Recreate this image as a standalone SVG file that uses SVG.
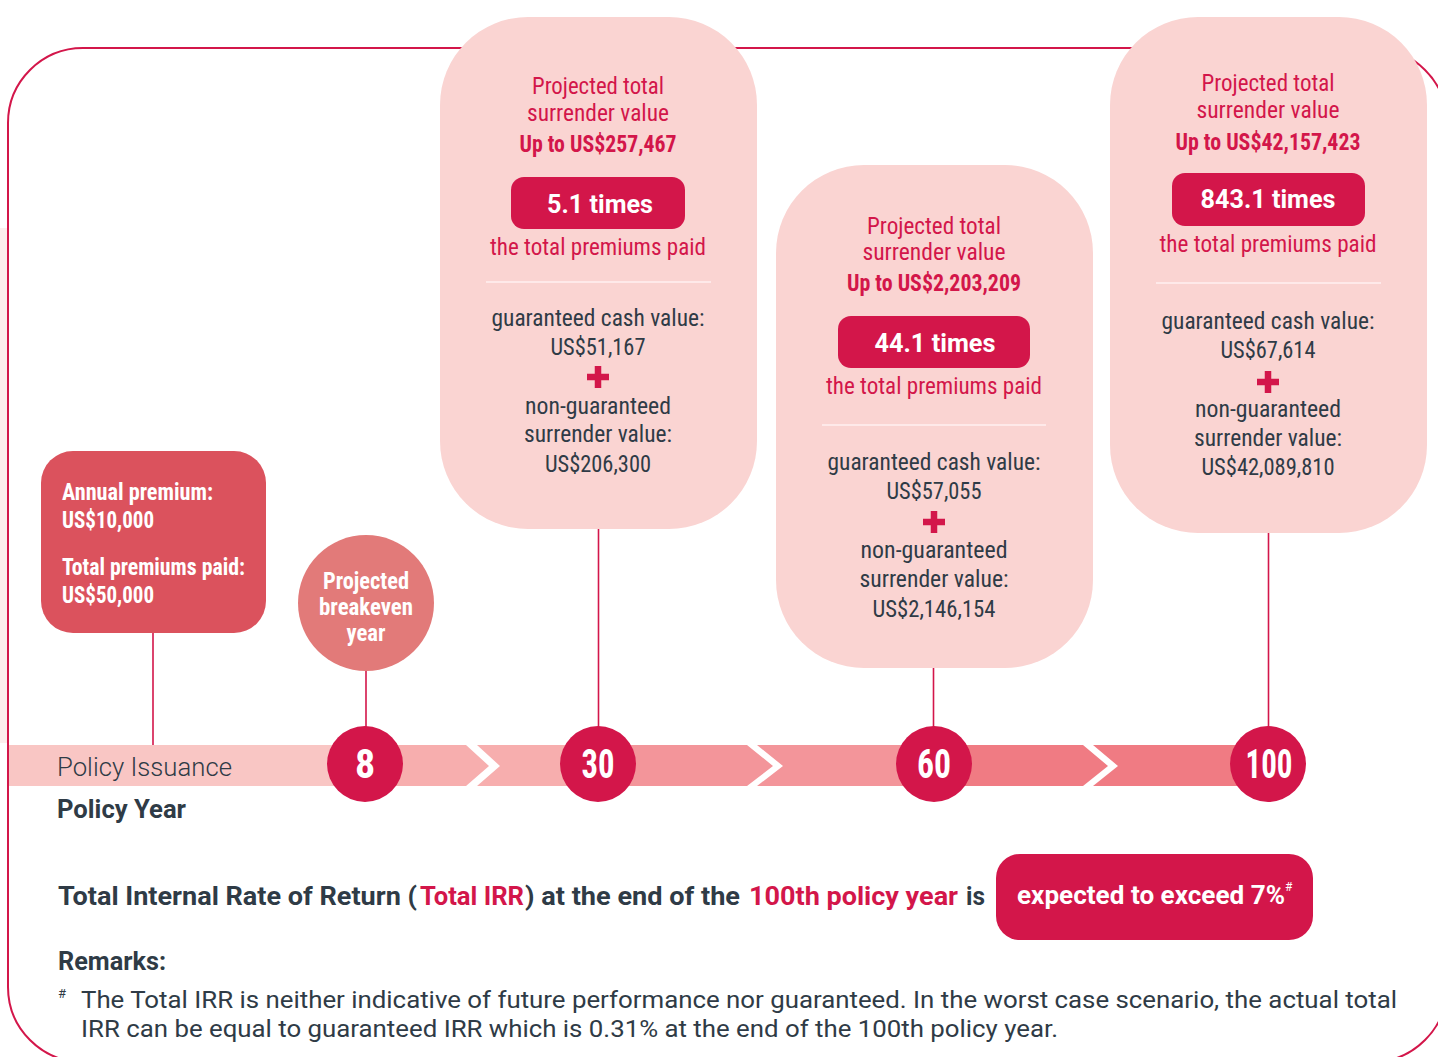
<svg xmlns="http://www.w3.org/2000/svg" width="1438" height="1057" viewBox="0 0 1438 1057">
<style>
.cond{font-family:"Liberation Sans Narrow","Roboto Condensed","Liberation Sans",sans-serif;font-size:24px}
.b{font-weight:bold}
.red{fill:#D3164A}
.dark{fill:#2F3B46}
.wh{fill:#FFFFFF}
.mid{text-anchor:middle}
.box{fill:#FAD4D2}
.pill{fill:#D3164A}
.div{stroke:#FFF1F0;stroke-width:1.5}
.plus{stroke:#D3164A;stroke-width:6.5}
.conn{stroke:#D3164A;stroke-width:1.6;fill:none}
.sans{font-family:Roboto,"Liberation Sans",sans-serif}
.pilltxt{font-family:Roboto,"Liberation Sans",sans-serif;font-size:25px;font-weight:bold;fill:#FFFFFF;text-anchor:middle}
.num{font-family:"Liberation Sans Narrow","Roboto Condensed","Liberation Sans",sans-serif;font-size:40px;font-weight:bold;fill:#FFFFFF;text-anchor:middle}
.yr{fill:#D3164A}
.chev{fill:#FFFFFF}
</style>
<rect x="0" y="228" width="7" height="515" fill="#FDEEED"/>
<rect id="frame" x="8" y="48" width="1439" height="1014" rx="75" ry="75" fill="none" stroke="#D3164A" stroke-width="2"/>

<g id="timeline">
<rect x="9" y="745" width="360" height="41" fill="#F9C6C4"/>
<rect x="365" y="745" width="236" height="41" fill="#F7AEAE"/>
<rect x="598" y="745" width="340" height="41" fill="#F3959A"/>
<rect x="934" y="745" width="334" height="41" fill="#F07B83"/>
<polygon class="chev" points="466,745 477,745 500,766 477,786 466,786 489,766"/>
<polygon class="chev" points="747,745 757,745 783,766 757,786 747,786 773,766"/>
<polygon class="chev" points="1083,745 1093,745 1118,766 1093,786 1083,786 1108,766"/>
<text class="sans dark" x="57" y="776" font-size="25" font-weight="300" textLength="175" lengthAdjust="spacingAndGlyphs">Policy Issuance</text>
<text class="sans dark b" x="57" y="818" font-size="25" textLength="129" lengthAdjust="spacingAndGlyphs">Policy Year</text>
</g>

<g id="connectors">
<line class="conn" x1="153" y1="633" x2="153" y2="745"/>
<line class="conn" x1="366" y1="670" x2="366" y2="727"/>
<line class="conn" x1="598.5" y1="528" x2="598.5" y2="727"/>
<line class="conn" x1="933.5" y1="667" x2="933.5" y2="727"/>
<line class="conn" x1="1268.5" y1="532" x2="1268.5" y2="727"/>
</g>

<g id="year-8">
<circle class="yr" cx="365" cy="764" r="38"/>
<text class="num" x="365" y="778">8</text>
</g>
<g id="year-30">
<circle class="yr" cx="598" cy="764" r="38"/>
<text class="num" x="598" y="778" textLength="33" lengthAdjust="spacingAndGlyphs">30</text>
</g>
<g id="year-60">
<circle class="yr" cx="934" cy="764" r="38"/>
<text class="num" x="934" y="778" textLength="34" lengthAdjust="spacingAndGlyphs">60</text>
</g>
<g id="year-100">
<circle class="yr" cx="1268" cy="764" r="38"/>
<text class="num" x="1269" y="778" textLength="47" lengthAdjust="spacingAndGlyphs">100</text>
</g>

<g id="premium">
<rect x="41" y="451" width="225" height="182" rx="32" fill="#DB525D"/>
<text class="cond b wh" x="62" y="500" textLength="151" lengthAdjust="spacingAndGlyphs">Annual premium:</text>
<text class="cond b wh" x="62" y="528" textLength="92" lengthAdjust="spacingAndGlyphs">US$10,000</text>
<text class="cond b wh" x="62" y="575" textLength="183" lengthAdjust="spacingAndGlyphs">Total premiums paid:</text>
<text class="cond b wh" x="62" y="603" textLength="92" lengthAdjust="spacingAndGlyphs">US$50,000</text>
</g>

<g id="breakeven">
<circle cx="366" cy="603" r="68" fill="#E27A79"/>
<text class="cond b wh mid" x="366" y="589" font-size="21" textLength="86" lengthAdjust="spacingAndGlyphs">Projected</text>
<text class="cond b wh mid" x="366" y="615" font-size="21" textLength="94" lengthAdjust="spacingAndGlyphs">breakeven</text>
<text class="cond b wh mid" x="366" y="641" font-size="21" textLength="39" lengthAdjust="spacingAndGlyphs">year</text>
</g>

<g id="box-30">
<rect class="box" x="440" y="17" width="317" height="512" rx="88"/>
<text class="cond red mid" x="598" y="94" textLength="132" lengthAdjust="spacingAndGlyphs">Projected total</text>
<text class="cond red mid" x="598" y="121" textLength="142" lengthAdjust="spacingAndGlyphs">surrender value</text>
<text class="cond red mid b" x="598" y="152" textLength="157" lengthAdjust="spacingAndGlyphs">Up to US$257,467</text>
<rect class="pill" x="511" y="177" width="174" height="52" rx="13"/>
<text class="pilltxt" x="600" y="213" textLength="106" lengthAdjust="spacingAndGlyphs">5.1 times</text>
<text class="cond red mid" x="598" y="255" textLength="216" lengthAdjust="spacingAndGlyphs">the total premiums paid</text>
<line class="div" x1="486" y1="282" x2="711" y2="282"/>
<text class="cond dark mid" x="598" y="326" textLength="213" lengthAdjust="spacingAndGlyphs">guaranteed cash value:</text>
<text class="cond dark mid" x="598" y="355" textLength="95" lengthAdjust="spacingAndGlyphs">US$51,167</text>
<path class="plus" d="M587 377H609M598 366V388"/>
<text class="cond dark mid" x="598" y="414" textLength="146" lengthAdjust="spacingAndGlyphs">non-guaranteed</text>
<text class="cond dark mid" x="598" y="442" textLength="148" lengthAdjust="spacingAndGlyphs">surrender value:</text>
<text class="cond dark mid" x="598" y="472" textLength="106" lengthAdjust="spacingAndGlyphs">US$206,300</text>
</g>

<g id="box-60">
<rect class="box" x="776" y="165" width="317" height="503" rx="88"/>
<text class="cond red mid" x="934" y="234" textLength="134" lengthAdjust="spacingAndGlyphs">Projected total</text>
<text class="cond red mid" x="934" y="260" textLength="143" lengthAdjust="spacingAndGlyphs">surrender value</text>
<text class="cond red mid b" x="934" y="291" textLength="174" lengthAdjust="spacingAndGlyphs">Up to US$2,203,209</text>
<rect class="pill" x="838" y="316" width="192" height="52" rx="13"/>
<text class="pilltxt" x="935" y="352" textLength="121" lengthAdjust="spacingAndGlyphs">44.1 times</text>
<text class="cond red mid" x="934" y="394" textLength="216" lengthAdjust="spacingAndGlyphs">the total premiums paid</text>
<line class="div" x1="822" y1="425" x2="1046" y2="425"/>
<text class="cond dark mid" x="934" y="470" textLength="213" lengthAdjust="spacingAndGlyphs">guaranteed cash value:</text>
<text class="cond dark mid" x="934" y="499" textLength="95" lengthAdjust="spacingAndGlyphs">US$57,055</text>
<path class="plus" d="M923 522H945M934 511V533"/>
<text class="cond dark mid" x="934" y="558" textLength="147" lengthAdjust="spacingAndGlyphs">non-guaranteed</text>
<text class="cond dark mid" x="934" y="587" textLength="149" lengthAdjust="spacingAndGlyphs">surrender value:</text>
<text class="cond dark mid" x="934" y="617" textLength="123" lengthAdjust="spacingAndGlyphs">US$2,146,154</text>
</g>

<g id="box-100">
<rect class="box" x="1110" y="17" width="317" height="516" rx="88"/>
<text class="cond red mid" x="1268" y="91" textLength="133" lengthAdjust="spacingAndGlyphs">Projected total</text>
<text class="cond red mid" x="1268" y="118" textLength="143" lengthAdjust="spacingAndGlyphs">surrender value</text>
<text class="cond red mid b" x="1268" y="150" textLength="185" lengthAdjust="spacingAndGlyphs">Up to US$42,157,423</text>
<rect class="pill" x="1172" y="173" width="193" height="53" rx="13"/>
<text class="pilltxt" x="1268" y="208" textLength="135" lengthAdjust="spacingAndGlyphs">843.1 times</text>
<text class="cond red mid" x="1268" y="252" textLength="217" lengthAdjust="spacingAndGlyphs">the total premiums paid</text>
<line class="div" x1="1156" y1="283" x2="1381" y2="283"/>
<text class="cond dark mid" x="1268" y="329" textLength="213" lengthAdjust="spacingAndGlyphs">guaranteed cash value:</text>
<text class="cond dark mid" x="1268" y="358" textLength="95" lengthAdjust="spacingAndGlyphs">US$67,614</text>
<path class="plus" d="M1257 382H1279M1268 371V393"/>
<text class="cond dark mid" x="1268" y="417" textLength="146" lengthAdjust="spacingAndGlyphs">non-guaranteed</text>
<text class="cond dark mid" x="1268" y="446" textLength="148" lengthAdjust="spacingAndGlyphs">surrender value:</text>
<text class="cond dark mid" x="1268" y="475" textLength="133" lengthAdjust="spacingAndGlyphs">US$42,089,810</text>
</g>

<g id="irr">
<text class="sans b dark" x="58" y="905" font-size="25" textLength="359" lengthAdjust="spacingAndGlyphs">Total Internal Rate of Return (</text>
<text class="sans b red" x="420" y="905" font-size="25" textLength="104" lengthAdjust="spacingAndGlyphs">Total IRR</text>
<text class="sans b dark" x="525" y="905" font-size="25" textLength="215" lengthAdjust="spacingAndGlyphs">) at the end of the</text>
<text class="sans b red" x="749" y="905" font-size="25" textLength="209" lengthAdjust="spacingAndGlyphs">100th policy year</text>
<text class="sans b dark" x="966" y="905" font-size="25" textLength="19" lengthAdjust="spacingAndGlyphs">is</text>
<rect class="pill" x="996" y="854" width="317" height="86" rx="24"/>
<text class="sans b wh" x="1017" y="904" font-size="25" textLength="268" lengthAdjust="spacingAndGlyphs">expected to exceed 7%</text>
<text class="sans wh" x="1285" y="891" font-size="12">#</text>
</g>

<g id="remarks">
<text class="sans b dark" x="58" y="970" font-size="25" textLength="108" lengthAdjust="spacingAndGlyphs">Remarks:</text>
<text class="sans dark" x="58" y="998" font-size="13">#</text>
<text class="sans dark" x="81" y="1008" font-size="24" textLength="1316" lengthAdjust="spacingAndGlyphs">The Total IRR is neither indicative of future performance nor guaranteed. In the worst case scenario, the actual total</text>
<text class="sans dark" x="81" y="1037" font-size="24" textLength="977" lengthAdjust="spacingAndGlyphs">IRR can be equal to guaranteed IRR which is 0.31% at the end of the 100th policy year.</text>
</g>
</svg>
